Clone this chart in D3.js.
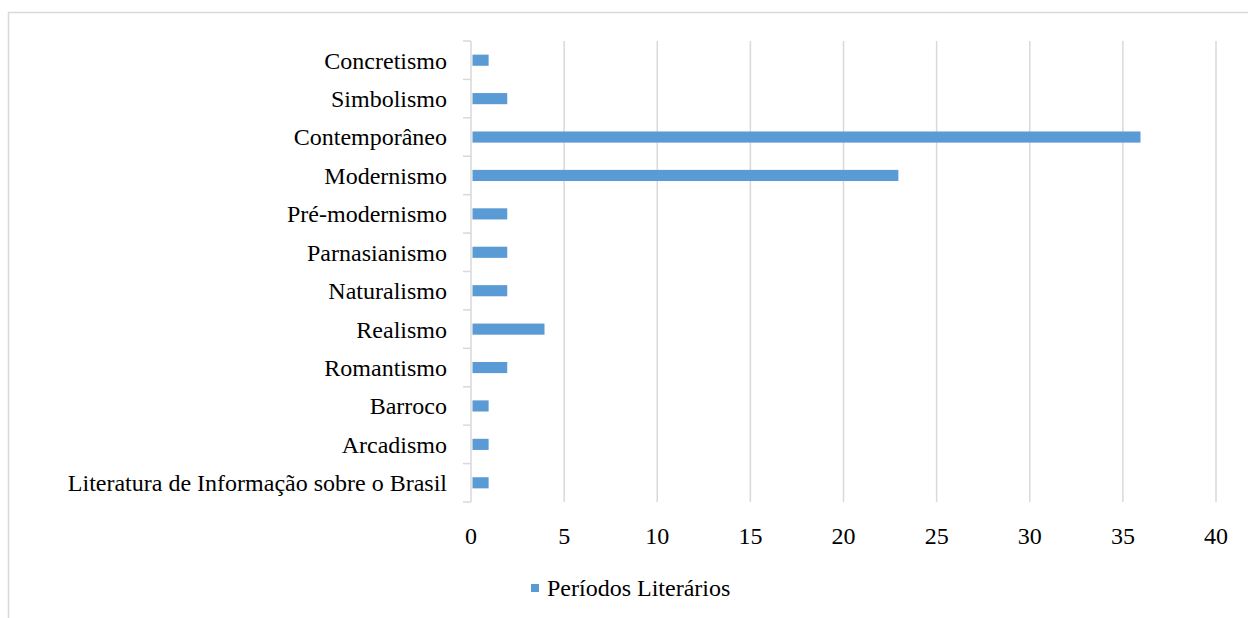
<!DOCTYPE html>
<html>
<head>
<meta charset="utf-8">
<script src="https://cdn.jsdelivr.net/npm/d3@7"></script>
<style>
  body { margin: 0; background: #fff; }
</style>
</head>
<body>
<div id="chart"></div>
<script>
// categories listed top to bottom
var categories = ['Concretismo', 'Simbolismo', 'Contemporâneo', 'Modernismo', 'Pré-modernismo',
    'Parnasianismo', 'Naturalismo', 'Realismo', 'Romantismo', 'Barroco', 'Arcadismo',
    'Literatura de Informação sobre o Brasil'];
var values = [1, 2, 36, 23, 2, 2, 2, 4, 2, 1, 1, 1];
var xTicks = [0, 5, 10, 15, 20, 25, 30, 35, 40];
var seriesName = 'Períodos Literários';

var W = 1248, H = 618;
var margin = {top: 41, left: 471, right: 32, bottom: 116};
var width = W - margin.left - margin.right,
    height = H - margin.top - margin.bottom;
var FONT = "'Times New Roman', 'Liberation Serif', Tinos, 'DejaVu Serif', serif";

var svg = d3.select('#chart').append('svg')
    .attr('width', W).attr('height', H)
    .style('font-family', FONT);

// outer chart border (runs off the right and bottom edge)
svg.append('rect')
    .attr('x', 8.5).attr('y', 12.5)
    .attr('width', 1300).attr('height', 700)
    .attr('fill', 'none').attr('stroke', '#d9d9d9').attr('stroke-width', 1.5);

var g = svg.append('g')
    .attr('transform', 'translate(' + margin.left + ',' + margin.top + ')');

var data = categories.map(function (c, i) { return {cat: c, val: values[i]}; });

var xScale = d3.scaleLinear().domain([0, 40]).range([0, width]);
var yScale = d3.scaleBand().domain(categories).range([0, height]).paddingInner(0.71).paddingOuter(0.355);

// gridlines
g.selectAll('.grid')
    .data(xTicks.slice(1))
    .enter().append('line')
    .attr('x1', function (d) { return xScale(d); })
    .attr('x2', function (d) { return xScale(d); })
    .attr('y1', 0).attr('y2', height)
    .attr('stroke', '#d9d9d9').attr('stroke-width', 1.5);

// bars
g.selectAll('.bar')
    .data(data)
    .enter().append('rect')
    .attr('x', 1.5)
    .attr('y', function (d) { return yScale(d.cat); })
    .attr('width', function (d) { return xScale(d.val) - 2.5; })
    .attr('height', yScale.bandwidth())
    .attr('fill', '#5b9bd5');

// y axis line + tick marks between categories
var step = height / categories.length;
g.append('line')
    .attr('x1', 0).attr('x2', 0).attr('y1', 0).attr('y2', height)
    .attr('stroke', '#d9d9d9').attr('stroke-width', 1.5);
g.selectAll('.ytick')
    .data(d3.range(categories.length + 1))
    .enter().append('line')
    .attr('x1', -8).attr('x2', 0)
    .attr('y1', function (i) { return i * step; })
    .attr('y2', function (i) { return i * step; })
    .attr('stroke', '#d9d9d9').attr('stroke-width', 1.5);

// category labels
g.selectAll('.ylabel')
    .data(categories)
    .enter().append('text')
    .attr('x', -24)
    .attr('y', function (d) { return yScale(d) + yScale.bandwidth() / 2; })
    .attr('dy', '0.35em')
    .style('text-anchor', 'end')
    .style('font-size', '24px')
    .text(function (d) { return d; });

// x tick labels
g.selectAll('.xlabel')
    .data(xTicks)
    .enter().append('text')
    .attr('x', function (d) { return xScale(d); })
    .attr('y', height + 34)
    .attr('dy', '0.35em')
    .style('text-anchor', 'middle')
    .style('font-size', '24px')
    .text(function (d) { return d; });

// legend
svg.append('rect')
    .attr('x', 531).attr('y', 584).attr('width', 8).attr('height', 8)
    .attr('fill', '#5b9bd5');
svg.append('text')
    .attr('x', 547).attr('y', 588).attr('dy', '0.35em')
    .style('font-size', '24px')
    .text(seriesName);
</script>
</body>
</html>
